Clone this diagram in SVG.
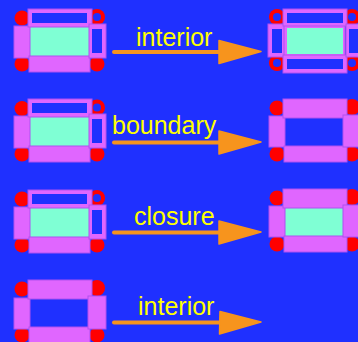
<svg xmlns="http://www.w3.org/2000/svg" width="358" height="342" viewBox="0 0 358 342">
<style>
.bg{fill:#1f30ff}
.e{fill:#e066ff;stroke:#b050f0;stroke-width:1}
.h{fill:#1f30ff}
.f{fill:#7fffd4}
.v{fill:#ff0000}
.t{font-family:"Liberation Sans",Arial,sans-serif;font-size:25px;fill:#ffff00}
.a{stroke:#f7941d;stroke-width:4;stroke-linecap:round;fill:none}
.ah{fill:#f7941d;stroke:#f7941d;stroke-width:1.5;stroke-linejoin:round}
</style>
<rect class="bg" x="0" y="0" width="358" height="342"/>

<g id="fig1-left" transform="translate(0,0)">
<circle class="v" cx="22" cy="18" r="7.5"/><circle class="v" cx="97" cy="17" r="8"/><circle class="h" cx="97" cy="17" r="4"/>
<circle class="v" cx="22" cy="64" r="7.5"/><circle class="v" cx="97" cy="64" r="7.5"/>
<rect class="f" x="30" y="27" width="59" height="30"/>
<rect class="e" x="14" y="26" width="16" height="32"/>
<rect class="e" x="29" y="56" width="61" height="16"/>
<rect class="e" x="28" y="9" width="64" height="18"/><rect class="h" x="32" y="13" width="55" height="10"/>
<rect class="e" x="89" y="24" width="17" height="34"/><rect class="h" x="92" y="29" width="10" height="24"/>
</g>

<g id="fig1-right" transform="translate(254,0)">
<circle class="v" cx="23" cy="17" r="8"/><circle class="h" cx="23" cy="17" r="4"/>
<circle class="v" cx="98" cy="17" r="8"/><circle class="h" cx="98" cy="17" r="4"/>
<circle class="v" cx="23" cy="63" r="8"/><circle class="h" cx="23" cy="63" r="4"/>
<circle class="v" cx="98" cy="63" r="8"/><circle class="h" cx="98" cy="63" r="4"/>
<rect class="e" x="29" y="25" width="62" height="32"/>
<rect class="f" x="33" y="28" width="56" height="26"/>
<rect class="e" x="14" y="24" width="16" height="33"/><rect class="h" x="18" y="29" width="10" height="24"/>
<rect class="e" x="29" y="55" width="64" height="18"/><rect class="h" x="33" y="59" width="56" height="10"/>
<rect class="e" x="29" y="9" width="64" height="17"/><rect class="h" x="33" y="13" width="56" height="10"/>
<rect class="e" x="92" y="24" width="17" height="33"/><rect class="h" x="95" y="29" width="10" height="24"/>
</g>

<g id="fig2-left" transform="translate(0,90)">
<circle class="v" cx="22" cy="18.5" r="7.5"/><circle class="v" cx="97" cy="17.5" r="8"/><circle class="h" cx="97" cy="17.5" r="4"/>
<circle class="v" cx="22" cy="64" r="7.5"/><circle class="v" cx="97" cy="64" r="7.5"/>
<rect class="f" x="30" y="27" width="59" height="30"/>
<rect class="e" x="14" y="26" width="16" height="32"/>
<rect class="e" x="29" y="56" width="61" height="16"/>
<rect class="e" x="28" y="9" width="64" height="18"/><rect class="h" x="32" y="13" width="55" height="10"/>
<rect class="e" x="89" y="24" width="17" height="34"/><rect class="h" x="92" y="29" width="10" height="24"/>
</g>

<g id="fig2-right" transform="translate(254,90)">
<circle class="v" cx="23" cy="18" r="7.5"/><circle class="v" cx="98" cy="17" r="8"/>
<circle class="v" cx="23" cy="64" r="7.5"/><circle class="v" cx="98" cy="64" r="7.5"/>
<rect class="e" x="15" y="26" width="16" height="31"/>
<rect class="e" x="30" y="56" width="63" height="16"/>
<rect class="e" x="29" y="9" width="64" height="19"/>
<rect class="e" x="89" y="25" width="17" height="32"/>
</g>

<g id="fig3-left" transform="translate(0,181)">
<circle class="v" cx="22" cy="18" r="7.5"/><circle class="v" cx="97" cy="17" r="8"/><circle class="h" cx="97" cy="17" r="4"/>
<circle class="v" cx="22" cy="64" r="7.5"/><circle class="v" cx="97" cy="64" r="7.5"/>
<rect class="f" x="30" y="27" width="59" height="30"/>
<rect class="e" x="14" y="26" width="16" height="32"/>
<rect class="e" x="29" y="56" width="61" height="16"/>
<rect class="e" x="28" y="9" width="64" height="18"/><rect class="h" x="32" y="13" width="55" height="10"/>
<rect class="e" x="89" y="24" width="17" height="34"/><rect class="h" x="92" y="29" width="10" height="24"/>
</g>

<g id="fig3-right" transform="translate(254,180)">
<circle class="v" cx="23" cy="18" r="7.5"/><circle class="v" cx="98" cy="17" r="8"/>
<circle class="v" cx="23" cy="64" r="7.5"/><circle class="v" cx="98" cy="64" r="7.5"/>
<rect class="f" x="31" y="27" width="58" height="30"/>
<rect class="e" x="15" y="26" width="16" height="31"/>
<rect class="e" x="30" y="56" width="63" height="16"/>
<rect class="e" x="29" y="9" width="64" height="19"/>
<rect class="e" x="89" y="25" width="17" height="32"/>
</g>

<g id="fig4-left" transform="translate(0,271)">
<circle class="v" cx="22" cy="18" r="7.5"/><circle class="v" cx="97" cy="17" r="8"/>
<circle class="v" cx="22" cy="64" r="7.5"/><circle class="v" cx="97" cy="64" r="7.5"/>
<rect class="e" x="14" y="27" width="16" height="31"/>
<rect class="e" x="29" y="56" width="61" height="18"/>
<rect class="e" x="28" y="9" width="64" height="19"/>
<rect class="e" x="88" y="25" width="18" height="33"/>
</g>

<g id="connectors">
<line class="a" x1="114" y1="52" x2="222" y2="52"/>
<polygon class="ah" points="219,40.5 261,51.5 219,63.5"/>
<line class="a" x1="114" y1="142.5" x2="222" y2="142.5"/>
<polygon class="ah" points="219,131 261,142 219,154"/>
<line class="a" x1="114" y1="232.5" x2="222" y2="232.5"/>
<polygon class="ah" points="219,221 261,232 219,244"/>
<line class="a" x1="114" y1="322.5" x2="222" y2="322.5"/>
<polygon class="ah" points="220,311.5 261,322 219.5,334"/>
<text class="t" x="136" y="46">interior</text>
<text class="t" x="112" y="134">boundary</text>
<text class="t" x="134" y="225">closure</text>
<text class="t" x="138" y="315">interior</text>
</g>
</svg>
